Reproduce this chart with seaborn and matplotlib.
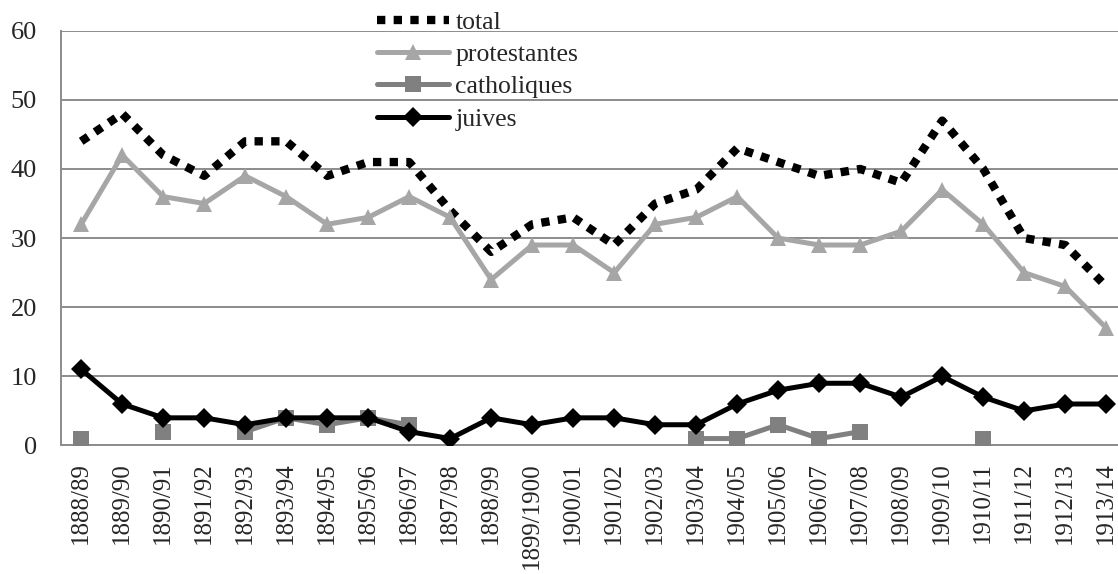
import numpy as np
import pandas as pd
import seaborn as sns
import matplotlib
matplotlib.use("Agg")
import matplotlib.pyplot as plt

# data
years = ["1888/89", "1889/90", "1890/91", "1891/92", "1892/93", "1893/94",
         "1894/95", "1895/96", "1896/97", "1897/98", "1898/99", "1899/1900",
         "1900/01", "1901/02", "1902/03", "1903/04", "1904/05", "1905/06",
         "1906/07", "1907/08", "1908/09", "1909/10", "1910/11", "1911/12",
         "1912/13", "1913/14"]
total = [44, 48, 42, 39, 44, 44, 39, 41, 41, 34, 28, 32, 33, 29, 35, 37,
         43, 41, 39, 40, 38, 47, 40, 30, 29, 23]
protestantes = [32, 42, 36, 35, 39, 36, 32, 33, 36, 33, 24, 29, 29, 25, 32,
                33, 36, 30, 29, 29, 31, 37, 32, 25, 23, 17]
catholiques = [1, None, 2, None, 2, 4, 3, 4, 3, None, None, None, None, None,
               None, 1, 1, 3, 1, 2, None, None, 1, None, None, None]
juives = [11, 6, 4, 4, 3, 4, 4, 4, 2, 1, 4, 3, 4, 4, 3, 3, 6, 8, 9, 9, 7, 10,
          7, 5, 6, 6]

df = pd.DataFrame({
    "pos": np.arange(len(years)),
    "total": total,
    "protestantes": protestantes,
    "catholiques": pd.array(catholiques, dtype="float"),
    "juives": juives,
})

sns.set_style("white")
plt.rcParams["font.family"] = ["Liberation Serif", "DejaVu Serif"]

fig = plt.figure(figsize=(11.18, 5.74), dpi=100)
ax = fig.add_axes([0.0543, 0.2239, 0.9535, 0.7226])

grid_col = "#8c8c8c"

# total - dotted black
sns.lineplot(data=df, x="pos", y="total", ax=ax, color="black", lw=6,
             label="total", zorder=3)
ax.lines[-1].set_linestyle((0, (1.0, 1.0)))
ax.lines[-1].set_dash_capstyle("butt")

# protestantes
sns.lineplot(data=df, x="pos", y="protestantes", ax=ax, color="#a6a6a6",
             lw=3.6, marker="^", markersize=11, markeredgewidth=0,
             label="protestantes", zorder=3)

# catholiques (gaps kept, so plain plot)
ax.plot(df["pos"], df["catholiques"], color="#808080", lw=3.6, marker="s",
        markersize=11, markeredgewidth=0, label="catholiques", zorder=3)

# juives
sns.lineplot(data=df, x="pos", y="juives", ax=ax, color="black", lw=3.6,
             marker="D", markersize=10, markeredgewidth=0, label="juives",
             zorder=4)

ax.set_xlim(-0.5, len(years) - 0.5)
ax.set_ylim(0, 60)
ax.set_yticks(range(0, 61, 10))
ax.set_xticks(range(len(years)))
ax.set_xticklabels(years, rotation=90, fontsize=18)
ax.set_xticks(np.arange(-0.5, len(years), 1), minor=True)
ax.tick_params(axis="x", which="major", length=0, pad=12)
ax.tick_params(axis="x", which="minor", length=6, width=1.3, color=grid_col,
               direction="out")
ax.tick_params(axis="y", length=6, width=1.3, color=grid_col, labelsize=19,
               pad=11, direction="out")
ax.set_xlabel("")
ax.set_ylabel("")

ax.yaxis.grid(True, color=grid_col, lw=1.4)
ax.set_axisbelow(True)
for side in ["top", "right"]:
    ax.spines[side].set_visible(False)
for side in ["left", "bottom"]:
    ax.spines[side].set_color(grid_col)
    ax.spines[side].set_linewidth(1.4)

leg = ax.legend(loc="upper left", bbox_to_anchor=(377 / 1118, 1 - 11 / 574),
                bbox_transform=fig.transFigure, frameon=False, fontsize=18.5,
                handlelength=2.8, handletextpad=0.25, labelspacing=0.36,
                borderpad=0, borderaxespad=0)

fig.savefig("out.png", dpi=100)
